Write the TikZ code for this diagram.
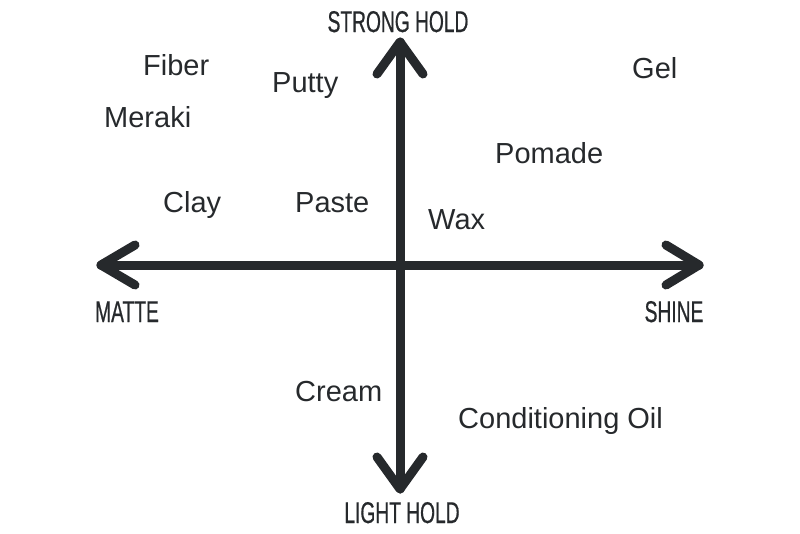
\documentclass[tikz,border=0pt]{standalone}
\usepackage{fontspec}
\setmainfont{Liberation Sans}
\newfontfamily\axisfont[FakeStretch=0.64,FakeBold=0.6]{Liberation Sans}
\usetikzlibrary{positioning}
\definecolor{inkdark}{HTML}{26292C}

\tikzset{
  axis/.style={draw=inkdark, line width=9pt, line cap=round, line join=round},
  axislabel/.style={anchor=base, inner sep=0pt, text=inkdark, font=\axisfont\fontsize{30}{32}\selectfont},
  product/.style={anchor=base west, inner sep=0pt, text=inkdark, font=\fontsize{29}{32}\selectfont}
}

\begin{document}
\begin{tikzpicture}[x=1pt,y=-1pt]
  \useasboundingbox (0,0) rectangle (800,533);

  % axis ends
  \coordinate (strong) at (400,42);
  \coordinate (light) at (400,489);
  \coordinate (matte) at (101,265);
  \coordinate (shine) at (699,265);

  \draw[axis] (matte) -- (shine);
  \draw[axis] (light) -- (strong);
  \draw[axis] ([shift={(34,-20)}]matte) -- (matte) -- ++(34,20);
  \draw[axis] ([shift={(-33,-20)}]shine) -- (shine) -- ++(-33,20);
  \draw[axis] ([shift={(-23,32)}]strong) -- (strong) -- ++(23,32);
  \draw[axis] ([shift={(-23,-32)}]light) -- (light) -- ++(23,-32);

  % axis labels
  \node[axislabel] (stronglbl) at (398,32) {STRONG HOLD};
  \node[axislabel] (lightlbl) at (402,523) {LIGHT HOLD};
  \node[axislabel] (mattelbl) at (127,322) {MATTE};
  \node[axislabel] (shinelbl) at (674,322) {SHINE};

  % products
  \node[product] (fiber) at (143,75) {Fiber};
  \node[product] (putty) at (272,92) {Putty};
  \node[product] (gel) at (632,78) {Gel};
  \node[product] (meraki) at (104,127) {Meraki};
  \node[product] (pomade) at (495,163) {Pomade};
  \node[product] (clay) at (163,212) {Clay};
  \node[product] (paste) at (295,212) {Paste};
  \node[product] (wax) at (428,229) {Wax};
  \node[product] (cream) at (295,401) {Cream};
  \node[product] (oil) at (458,428) {Conditioning Oil};
\end{tikzpicture}
\end{document}
